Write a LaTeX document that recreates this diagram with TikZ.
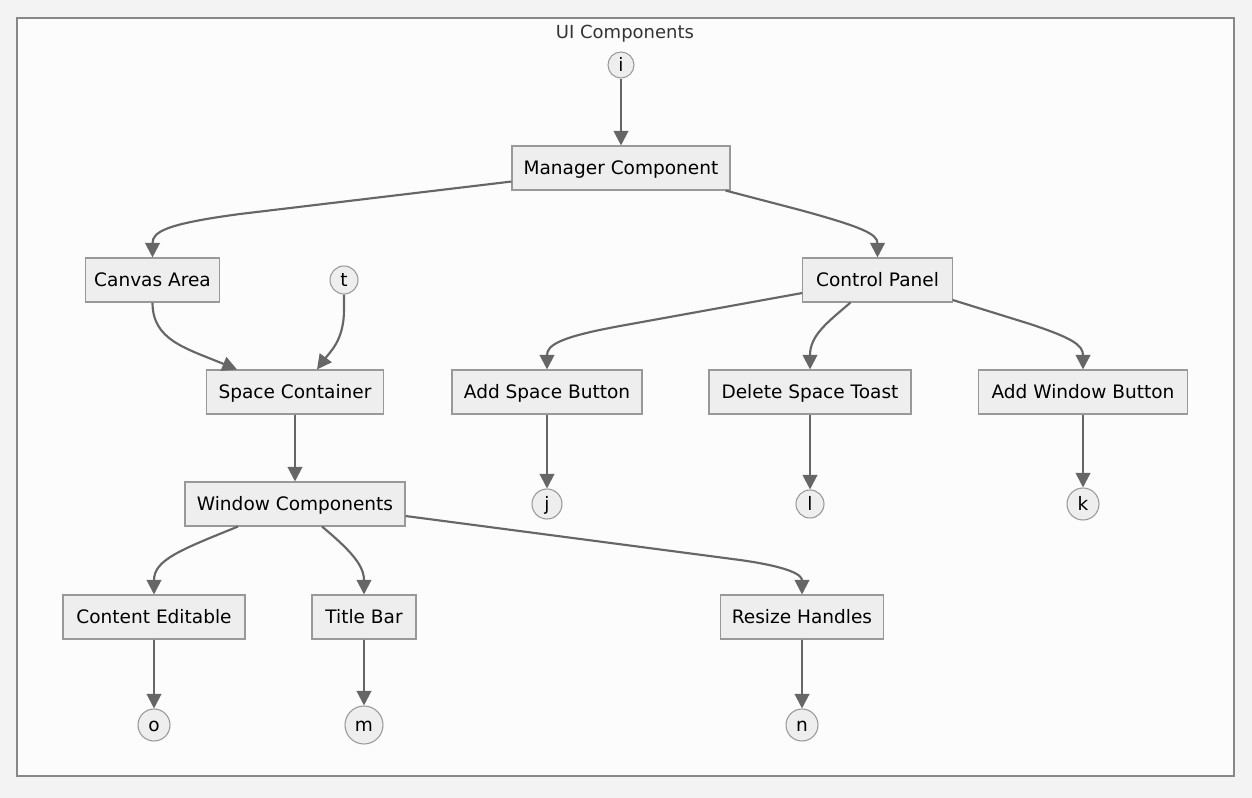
\documentclass[tikz,border=0pt]{standalone}
\usepackage{fontspec}
\setmainfont{DejaVu Sans}
\usetikzlibrary{arrows.meta,calc}
\definecolor{bgout}{HTML}{F3F3F3}
\definecolor{bgin}{HTML}{FCFCFC}
\definecolor{clusterline}{HTML}{888888}
\definecolor{boxfill}{HTML}{EEEEEE}
\definecolor{boxline}{HTML}{999999}
\definecolor{edgecol}{HTML}{666666}
\definecolor{titlecol}{HTML}{333333}
\tikzset{
  box/.style={draw=boxline, fill=boxfill, line width=0.8pt, minimum height=33pt, inner sep=0pt, text height=10pt, text depth=0pt, font=\fontsize{13.9pt}{16pt}\selectfont, text=black},
  circ/.style={draw=boxline, fill=boxfill, line width=0.8pt, circle, inner sep=0pt, text height=10pt, text depth=0pt, font=\fontsize{13.9pt}{16pt}\selectfont, text=black},
  edge/.style={draw=edgecol, line width=1.6pt, -{Triangle[length=11pt,width=11pt]}},
}
\begin{document}
\begin{tikzpicture}[x=0.75pt,y=-0.75pt]
\useasboundingbox (0,0) rectangle (1252,798);
\fill[bgout] (0,0) rectangle (1252,798);
\draw[clusterline, fill=bgin, line width=1.1pt] (17,18) rectangle (1234,776);
\node[text=titlecol, font=\fontsize{13.5pt}{16pt}\selectfont, text height=10pt, text depth=0pt] (title) at (625,32) {UI Components};

% nodes
\node[circ, minimum size=19.5pt] (i) at (621,65) {i};
\node[box, minimum width=163.5pt] (mgr) at (621,168) {Manager Component};
\node[box, minimum width=101pt] (canvas) at (152.5,280) {Canvas Area};
\node[circ, minimum size=21pt] (t) at (344,280) {t};
\node[box, minimum width=112pt] (ctrl) at (877.5,280) {Control Panel};
\node[box, minimum width=133pt] (space) at (295,392) {Space Container};
\node[box, minimum width=142.5pt] (addsp) at (547,392) {Add Space Button};
\node[box, minimum width=151.5pt] (del) at (810,392) {Delete Space Toast};
\node[box, minimum width=157pt] (addwin) at (1083,392) {Add Window Button};
\node[circ, minimum size=22.5pt] (j) at (547,504) {j};
\node[circ, minimum size=21pt] (l) at (810,504) {l};
\node[circ, minimum size=24pt] (k) at (1083,504) {k};
\node[box, minimum width=165pt] (win) at (295,504) {Window Components};
\node[box, minimum width=136.5pt] (content) at (154,617) {Content Editable};
\node[box, minimum width=78pt] (tbar) at (364,617) {Title Bar};
\node[box, minimum width=122pt] (resize) at (802,617) {Resize Handles};
\node[circ, minimum size=24pt] (o) at (154,725) {o};
\node[circ, minimum size=28.5pt] (m) at (364,725) {m};
\node[circ, minimum size=24pt] (n) at (802,725) {n};

% edges
\draw[edge] (i.south) -- (mgr.north);
\draw[edge] ($(mgr.south west)+(0,-9)$) -- (240,214) .. controls (165,224) and (152.5,232) .. (canvas.north);
\draw[edge] ($(mgr.south east)+(-5,0)$) -- (800,210) .. controls (862,227) and (877.5,234) .. (ctrl.north);
\draw[edge] ($(ctrl.west)+(0,13)$) -- (620,326) .. controls (560,337) and (547,345) .. (addsp.north);
\draw[edge] ($(ctrl.south)+(-27,0)$) .. controls (828,322) and (810,335) .. (del.north);
\draw[edge] ($(ctrl.east)+(0,20)$) -- (1030,324) .. controls (1072,338) and (1083,345) .. (addwin.north);
\draw[edge] (canvas.south) .. controls (152.5,340) and (185,348) .. ($(space.north)+(-58,0)$);
\draw[edge] (t.south) -- (344,310) .. controls (344,340) and (330,352) .. ($(space.north)+(22,0)$);
\draw[edge] (space.south) -- (win.north);
\draw[edge] ($(win.south)+(-57,0)$) .. controls (180,550) and (154,560) .. (content.north);
\draw[edge] ($(win.south)+(27,0)$) .. controls (350,550) and (364,565) .. (tbar.north);
\draw[edge] ($(win.east)+(0,12)$) -- (740,560) .. controls (790,567) and (802,575) .. (resize.north);
\draw[edge] (addsp.south) -- (j.north);
\draw[edge] (del.south) -- (l.north);
\draw[edge] (addwin.south) -- (k.north);
\draw[edge] (content.south) -- (o.north);
\draw[edge] (tbar.south) -- (m.north);
\draw[edge] (resize.south) -- (n.north);
\end{tikzpicture}
\end{document}
